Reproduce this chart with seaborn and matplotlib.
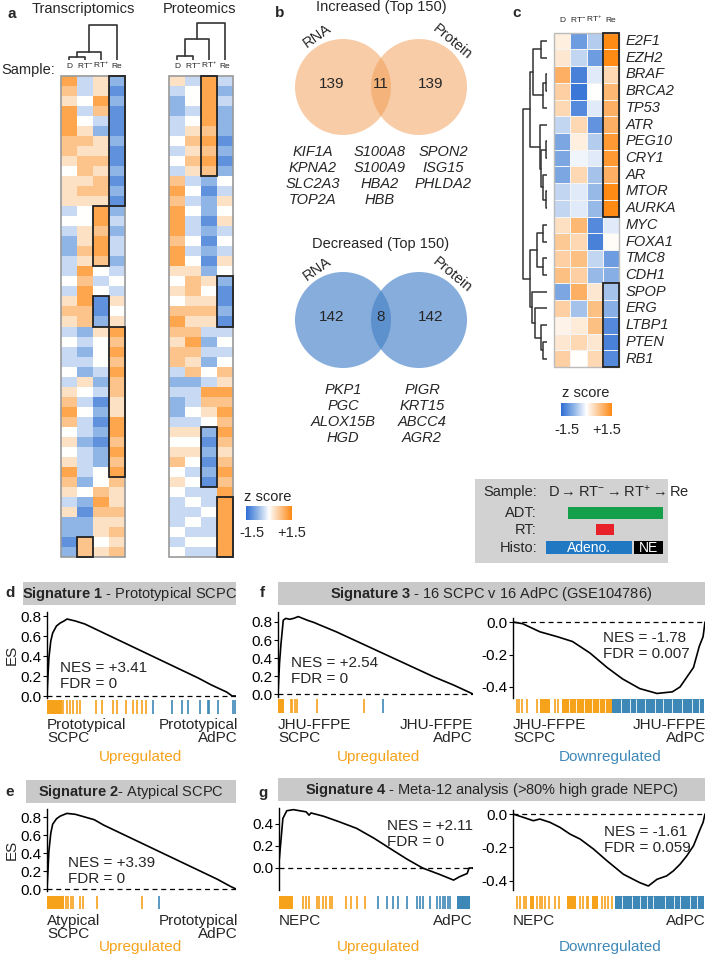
import numpy as np
import pandas as pd
import matplotlib
matplotlib.use("Agg")
import matplotlib.pyplot as plt
import seaborn as sns
from matplotlib.colors import LinearSegmentedColormap
from matplotlib.patches import Rectangle, Circle

sns.set_theme(style="white")
plt.rcParams['font.family'] = ['Liberation Sans', 'DejaVu Sans']
plt.rcParams['mathtext.fontset'] = 'custom'
plt.rcParams['mathtext.rm'] = 'Liberation Sans'
plt.rcParams['mathtext.bf'] = 'Liberation Sans:bold'
plt.rcParams['mathtext.it'] = 'Liberation Sans:italic'
plt.rcParams['axes.facecolor'] = 'none'

W, H = 708, 955

# ---------------- data ----------------
samples = ["D", r"RT$^{-}$", r"RT$^{+}$", "Re"]

# panel a: z-score levels 0..8 (4 = 0, step 0.375), one char per row block
trans_D  = "765777665455534322334356534334356764545765352212"
trans_RTm = "334345656656544556576776623232543433233324212266"
trans_RTp = "557632556566577677643411254443231212122446765545"
trans_Re = "212111211212123233234354576767665577676765565656"
prot_D   = "532233434367677767754546765663232235456454333434"
prot_RTm = "344345656534343343456656567656233435454343434343"
prot_RTp = "777776767621221212125456532324376542121213343343"
prot_Re  = "323222121243545343542112134346576767656767777777"
# (column, first row, last row) of outlined blocks
trans_boxes = [(3, 0, 13), (2, 13, 19), (2, 22, 25), (3, 25, 40), (1, 46, 48)]
prot_boxes = [(2, 0, 10), (3, 20, 25), (2, 35, 41), (3, 42, 48)]
trans_link = [(0, 1, 3.3), (4, 2, 8.3), (5, 3, 35)]
prot_link = [(0, 1, 4), (4, 2, 20.7), (5, 3, 36.7)]

# panel b
inc_counts = [139, 11, 139]
dec_counts = [142, 8, 142]
inc_genes = [["KIF1A", "KPNA2", "SLC2A3", "TOP2A"],
             ["S100A8", "S100A9", "HBA2", "HBB"],
             ["SPON2", "ISG15", "PHLDA2"]]
dec_genes = [["PKP1", "PGC", "ALOX15B", "HGD"],
             ["PIGR", "KRT15", "ABCC4", "AGR2"]]

# panel c
genes = ["E2F1", "EZH2", "BRAF", "BRCA2", "TP53", "ATR", "PEG10", "CRY1", "AR", "MTOR",
         "AURKA", "MYC", "FOXA1", "TMC8", "CDH1", "SPOP", "ERG", "LTBP1", "PTEN", "RB1"]
c_D   = [0.2, 0.3, 1.0, 0.6, 0.5, -0.4, -0.9, -0.9, -0.9, -0.4, -0.4, 0.4, 0.7, 0.6, 0.8, -0.9, 0.6, 0.15, 0.3, 0.6]
c_RTm = [-1.0, -0.4, -1.3, -1.4, -1.2, 0.5, 0.2, -0.1, 0.5, -0.2, -0.2, 0.9, 0.5, 0.8, 0.6, 1.0, -0.6, 0.25, 0.5, 0.0]
c_RTp = [-0.5, -1.0, -0.2, 0.0, -0.2, -1.1, -0.5, -0.2, -0.6, -0.7, -0.7, -1.2, -1.3, -0.4, -0.7, 0.3, 0.8, 0.8, 0.3, 0.5]
c_Re  = [1.5, 1.5, 0.5, 0.9, 1.0, 1.0, 1.3, 1.3, 1.0, 1.5, 1.5, -0.2, 0.05, -1.0, -0.8, -0.6, -0.8, -1.2, -1.3, -1.2]
c_boxes = [(3, 0, 11), (3, 15, 20)]
c_link = [(2, 3, 1), (20, 4, 3.7), (0, 1, 6.3), (22, 21, 14.3), (6, 7, 1), (9, 10, 1),
          (8, 25, 3.7), (24, 26, 6.3), (5, 27, 7), (23, 28, 17), (11, 12, 4.3), (13, 14, 4.3),
          (30, 31, 10.3), (18, 19, 4.3), (17, 33, 6.3), (16, 34, 12), (15, 35, 15.3),
          (32, 36, 17), (29, 37, 23.7)]

# GSEA running enrichment scores (fraction of ranked list, ES)
d_x = [0, 0.005, 0.01, 0.02, 0.03, 0.05, 0.07, 0.09, 0.106, 0.15, 0.2, 0.3, 0.4, 0.5, 0.6, 0.7, 0.8, 0.87, 0.95, 0.98, 1.0]
d_y = [0, 0.2, 0.38, 0.55, 0.63, 0.70, 0.73, 0.75, 0.77, 0.75, 0.72, 0.63, 0.54, 0.45, 0.36, 0.27, 0.18, 0.11, 0.04, 0.0, 0.0]
e_x = [0, 0.005, 0.01, 0.02, 0.03, 0.05, 0.07, 0.105, 0.15, 0.2, 0.25, 0.3, 0.4, 0.5, 0.6, 0.7, 0.8, 0.9, 0.97, 1.0]
e_y = [0, 0.2, 0.42, 0.62, 0.72, 0.78, 0.81, 0.84, 0.83, 0.80, 0.77, 0.71, 0.61, 0.51, 0.41, 0.31, 0.21, 0.11, 0.03, 0.0]
fl_x = [0, 0.008, 0.015, 0.027, 0.04, 0.06, 0.08, 0.104, 0.15, 0.19, 0.2, 0.3, 0.4, 0.5, 0.6, 0.7, 0.8, 0.9, 1.0]
fl_y = [0, 0.35, 0.55, 0.82, 0.84, 0.83, 0.84, 0.86, 0.82, 0.79, 0.78, 0.69, 0.59, 0.49, 0.39, 0.29, 0.19, 0.10, 0.0]
fr_x = [0, 0.05, 0.14, 0.23, 0.31, 0.40, 0.49, 0.57, 0.66, 0.75, 0.83, 0.87, 0.905, 0.94, 0.97, 0.99, 1.0]
fr_y = [0, -0.01, -0.06, -0.09, -0.12, -0.19, -0.28, -0.35, -0.41, -0.44, -0.43, -0.40, -0.34, -0.28, -0.15, -0.09, 0.0]
gl_x = [0, 0.014, 0.02, 0.04, 0.074, 0.14, 0.155, 0.165, 0.23, 0.31, 0.40, 0.49, 0.57, 0.66, 0.74, 0.83, 0.90, 0.93, 0.97, 0.98, 1.0]
gl_y = [0.05, 0.33, 0.45, 0.52, 0.53, 0.51, 0.48, 0.50, 0.47, 0.42, 0.36, 0.27, 0.18, 0.08, 0.0, -0.06, -0.11, -0.08, -0.05, 0.0, 0.0]
gr_x = [0, 0.054, 0.106, 0.14, 0.193, 0.245, 0.297, 0.35, 0.42, 0.49, 0.575, 0.66, 0.705, 0.75, 0.80, 0.835, 0.87, 0.905, 0.94, 0.975, 0.99, 1.0]
gr_y = [0, -0.02, -0.04, -0.03, -0.05, -0.08, -0.12, -0.15, -0.21, -0.28, -0.36, -0.41, -0.43, -0.39, -0.37, -0.34, -0.30, -0.25, -0.19, -0.09, -0.05, 0.0]

# rug hits: (orange blocks, orange lines, blue blocks, blue lines)
d_rug = ([(0, 0.078)], [0.087, 0.104, 0.122, 0.139, 0.157, 0.175, 0.258, 0.293, 0.351, 0.369, 0.416, 0.457, 0.478, 0.501, 0.522],
         [], [0.563, 0.66, 0.713, 0.748, 0.81, 0.854, 0.859, 0.907, 0.986, 0.993])
e_rug = ([(0, 0.09)], [0.1, 0.113, 0.125, 0.139, 0.175, 0.189, 0.263, 0.501], [], [0.594])
fl_rug = ([(0, 0.032)], [0.065, 0.073, 0.087, 0.096, 0.20, 0.44], [], [0.54])
fr_rug = ([(0.14, 0.193), (0.253, 0.514)], [0.019, 0.033, 0.047, 0.071, 0.123, 0.219, 0.236], [(0.514, 0.995)], [])
gl_rug = ([(0, 0.07)], [0.125, 0.139, 0.155, 0.194, 0.208, 0.225, 0.242, 0.263, 0.271, 0.345, 0.371, 0.400, 0.443],
          [(0.916, 0.985)], [0.512, 0.555, 0.589, 0.615, 0.658, 0.71, 0.727, 0.744, 0.778, 0.813, 0.83, 0.847, 0.856, 0.873, 0.881])
gr_rug = ([(0.087, 0.108), (0.28, 0.33), (0.41, 0.444)],
          [0.021, 0.038, 0.056, 0.069, 0.125, 0.139, 0.151, 0.168, 0.186, 0.22, 0.238, 0.349, 0.366, 0.384, 0.392, 0.462, 0.479, 0.496, 0.514],
          [(0.53, 0.995)], [])
# thin gaps inside the dense hit regions
fr_gaps = [0.29, 0.33, 0.37, 0.41, 0.45, 0.48, 0.56, 0.61, 0.64, 0.69, 0.74, 0.78, 0.83, 0.88, 0.93, 0.97]
gr_gaps = [0.57, 0.62, 0.66, 0.70, 0.73, 0.79, 0.84, 0.87, 0.92, 0.96]

ORANGE = "#F7A21B"
BLUE = "#3E88B8"
cmap = LinearSegmentedColormap.from_list("z", [(0, "#2f6ed4"), (0.25, "#8fb4e6"), (0.5, "#ffffff"),
                                               (0.75, "#fcc48c"), (1, "#ff8a14")])

fig = plt.figure(figsize=(W / 100, H / 100), dpi=100)


def px_axes(x0, y0, x1, y1):
    return fig.add_axes([x0 / W, 1 - y1 / H, (x1 - x0) / W, (y1 - y0) / H])


def lev(s):
    return [(int(c) - 4) * 0.375 for c in s]


def dendro(ax, Z, n, horizontal=False):
    pos = [i + 0.5 for i in range(n)]
    hgt = [0.0] * n
    for a, b, h in Z:
        xs = [pos[a], pos[a], pos[b], pos[b]]
        ys = [hgt[a], h, h, hgt[b]]
        if horizontal:
            ax.plot(ys, xs, color="#333333", lw=1.1)
        else:
            ax.plot(xs, ys, color="#333333", lw=1.2)
        pos.append((pos[a] + pos[b]) / 2)
        hgt.append(h)
    ax.axis("off")


# ---------------- panel a ----------------
for cols, boxes, link, x0 in [((trans_D, trans_RTm, trans_RTp, trans_Re), trans_boxes, trans_link, 61),
                              ((prot_D, prot_RTm, prot_RTp, prot_Re), prot_boxes, prot_link, 169)]:
    df = pd.DataFrame({s: lev(c) for s, c in zip(samples, cols)})
    ax = px_axes(x0, 76, x0 + 64, 557)
    sns.heatmap(df, cmap=cmap, vmin=-1.5, vmax=1.5, cbar=False, ax=ax,
                xticklabels=False, yticklabels=False)
    ax.add_patch(Rectangle((0, 0), 4, len(df), fill=False, ec="#9a9a9a", lw=1.2, clip_on=False))
    for c, r0, r1 in boxes:
        ax.add_patch(Rectangle((c, r0), 1, r1 - r0, fill=False, ec="#222222", lw=1.3, clip_on=False))
    for i, s in enumerate(samples):
        ax.text(i + 0.5, -0.6, s, ha="center", va="bottom", fontsize=6, clip_on=False)
    dax = px_axes(x0, 20, x0 + 64, 60)
    dendro(dax, link, 4)
    dax.set_xlim(0, 4)
    dax.set_ylim(0, 40)

cax = px_axes(246, 506, 292, 520)
cax.imshow(np.linspace(-1.5, 1.5, 200)[None, :], cmap=cmap, aspect="auto")
cax.axis("off")

# ---------------- panel c ----------------
cdf = pd.DataFrame({"D": c_D, "RTm": c_RTm, "RTp": c_RTp, "Re": c_Re}, index=genes)
axc = px_axes(554, 32.7, 619, 367)
sns.heatmap(cdf, cmap=cmap, vmin=-1.5, vmax=1.5, cbar=False, ax=axc,
            xticklabels=False, yticklabels=False, linewidths=0.6, linecolor="#f4f4f4")
axc.add_patch(Rectangle((0, 0), 4, len(genes), fill=False, ec="#bbbbbb", lw=1, clip_on=False))
for c, r0, r1 in c_boxes:
    axc.add_patch(Rectangle((c, r0), 1, r1 - r0, fill=False, ec="#222222", lw=1.3, clip_on=False))
for i, g in enumerate(genes):
    axc.text(4.4, i + 0.5, g, va="center", ha="left", fontsize=10.5, style="italic", clip_on=False)
for i, s in enumerate(samples):
    axc.text(i + 0.5, -0.5, s, ha="center", va="bottom", fontsize=6, clip_on=False)
dcx = px_axes(521, 32.7, 547, 367)
dendro(dcx, c_link, len(genes), horizontal=True)
dcx.set_xlim(26, 0)
dcx.set_ylim(len(genes), 0)

cax2 = px_axes(561, 403, 612, 416)
cax2.imshow(np.linspace(-1.5, 1.5, 200)[None, :], cmap=cmap, aspect="auto")
cax2.axis("off")


# ---------------- GSEA panels ----------------
def es_panel(box, xs, ys, ylim, yticks, rugbox, rug, gaps=()):
    ax = px_axes(*box)
    sns.lineplot(x=xs, y=ys, ax=ax, color="black", lw=1.2)
    ax.axhline(0, ls=(0, (4, 3)), color="black", lw=0.9)
    ax.set_xlim(0, 1)
    ax.set_ylim(*ylim)
    for s in ["top", "right", "bottom"]:
        ax.spines[s].set_visible(False)
    ax.spines["left"].set_color("black")
    ax.spines["left"].set_linewidth(1)
    ax.set_xticks([])
    ax.set_yticks(yticks)
    ax.set_yticklabels([f"{t:.1f}" for t in yticks])
    ax.tick_params(axis="y", left=True, length=3, width=0.8, labelsize=11, pad=1, colors="black")
    ax.set_xlabel("")
    ax.set_ylabel("")
    rx = px_axes(*rugbox)
    ob, ol, bb, bl = rug
    for a, b in ob:
        rx.axvspan(a, b, color=ORANGE, lw=0)
    for a, b in bb:
        rx.axvspan(a, b, color=BLUE, lw=0)
    rx.vlines(ol, 0, 1, color=ORANGE, lw=1.2)
    rx.vlines(bl, 0, 1, color=BLUE, lw=1.2)
    if gaps:
        rx.vlines(gaps, 0, 1, color="white", lw=0.6)
    rx.set_xlim(0, 1)
    rx.set_ylim(0, 1)
    rx.axis("off")


pos_ticks = [0.0, 0.2, 0.4, 0.6, 0.8]
es_panel((47, 612, 236, 698), d_x, d_y, (-0.02, 0.84), pos_ticks, (47, 700, 236, 714), d_rug)
es_panel((47, 809, 236, 891), e_x, e_y, (-0.022, 0.889), pos_ticks, (47, 896, 236, 909), e_rug)
es_panel((278, 612, 473, 697), fl_x, fl_y, (-0.033, 0.911), pos_ticks, (278, 699, 473, 713), fl_rug)
es_panel((513, 618, 705, 698), fr_x, fr_y, (-0.468, 0.025), [-0.4, -0.2, 0.0], (513, 699, 705, 713), fr_rug, fr_gaps)
es_panel((279, 808, 473, 890), gl_x, gl_y, (-0.2, 0.545), [0.0, 0.2, 0.4], (279, 896, 473, 909), gl_rug)
es_panel((513, 810, 705, 890), gr_x, gr_y, (-0.454, 0.024), [-0.4, -0.2, 0.0], (513, 896, 705, 909), gr_rug, gr_gaps)

# ---------------- overlay: text, venn, legend box ----------------
ov = px_axes(0, 0, W, H)
ov.set_xlim(0, W)
ov.set_ylim(H, 0)
ov.axis("off")


def T(x, y, s, **kw):
    kw.setdefault("fontsize", 10.5)
    kw.setdefault("ha", "center")
    kw.setdefault("va", "center")
    ov.text(x, y, s, **kw)


# panel letters
for x, y, s in [(12, 14, "a"), (280, 13, "b"), (517, 13, "c"), (10, 593, "d"), (10, 792, "e"),
                (262, 593, "f"), (263, 793, "g")]:
    T(x, y, s, fontsize=11, fontweight="bold")

T(83, 9, "Transcriptomics", fontsize=10.5)
T(200, 9, "Proteomics", fontsize=10.5)
T(28, 70, "Sample:", fontsize=10.5)
T(268, 497, "z score", fontsize=10.5)
T(252, 533, "-1.5", fontsize=10.5)
T(292, 533, "+1.5", fontsize=10.5)
T(586, 393, "z score", fontsize=10.5)
T(567, 430, "-1.5", fontsize=10.5)
T(607, 430, "+1.5", fontsize=10.5)

# venn diagrams
for cy, counts, color, alpha, title, ty in [(87, inc_counts, "#F29B50", 0.5, "Increased (Top 150)", 7),
                                           (320, dec_counts, "#4682C8", 0.65, "Decreased (Top 150)", 244)]:
    for cx in (343, 419):
        ov.add_patch(Circle((cx, cy), 48, color=color, alpha=alpha, lw=0))
    T(381, ty, title, fontsize=10.5)
    T(317, cy - 51, "RNA", rotation=35, fontsize=10.5)
    T(452, cy - 45, "Protein", rotation=-40, fontsize=10.5)
    for x, n in zip((332, 381, 431), counts):
        T(x, cy - 3, str(n), fontsize=11)

for x, col in zip((313, 380, 443), inc_genes):
    for i, g in enumerate(col):
        T(x, 152 + i * 16, g, style="italic")
for x, col in zip((343, 422), dec_genes):
    for i, g in enumerate(col):
        T(x, 390 + i * 16, g, style="italic")

# legend box
ov.add_patch(Rectangle((475, 479), 193, 84, color="#D2D2D2", lw=0))
for y, s in [(492, "Sample:"), (513, "ADT:"), (530, "RT:"), (548, "Histo:")]:
    T(537, y, s, ha="right")
T(548, 492, r"D$\rightarrow$RT$^{-}$$\rightarrow$RT$^{+}$$\rightarrow$Re", ha="left", fontsize=10.5)
ov.add_patch(Rectangle((568, 507), 95, 12, color="#14A04A", lw=0))
ov.add_patch(Rectangle((596, 524), 18, 11, color="#E8202A", lw=0))
ov.add_patch(Rectangle((546, 541), 86, 13, color="#1F78C1", lw=0))
ov.add_patch(Rectangle((634, 541), 29, 13, color="black", lw=0))
T(589, 548, "Adeno.", color="white", fontsize=10)
T(648, 548, "NE", color="white", fontsize=10)

# GSEA headers
for x0, x1, y0, s in [(23, 236, 582, r"$\bf{Signature\ 1}$ - Prototypical SCPC"),
                      (26, 236, 780, r"$\bf{Signature\ 2}$- Atypical SCPC"),
                      (278, 705, 582, r"$\bf{Signature\ 3}$ - 16 SCPC v 16 AdPC (GSE104786)"),
                      (278, 705, 778, r"$\bf{Signature\ 4}$ - Meta-12 analysis (>80% high grade NEPC)")]:
    ov.add_patch(Rectangle((x0, y0), x1 - x0, 23, color="#C9C9C9", lw=0))
    T((x0 + x1) / 2, y0 + 11.5, s, fontsize=10.5)

T(12, 655, "ES", rotation=90, fontsize=11)
T(12, 850, "ES", rotation=90, fontsize=11)

for x, y, s in [(60, 667, "NES = +3.41\nFDR = 0"), (68, 862, "NES = +3.39\nFDR = 0"),
                (291, 662, "NES = +2.54\nFDR = 0"), (603, 637, "NES = -1.78\nFDR = 0.007"),
                (387, 825, "NES = +2.11\nFDR = 0"), (604, 831, "NES = -1.61\nFDR = 0.059")]:
    T(x, y + 9, s, ha="left", fontsize=11, linespacing=1.2)

for xl, xr, y, left, right in [(47, 238, 718, "Prototypical\nSCPC", "Prototypical\nAdPC"),
                               (47, 238, 914, "Atypical\nSCPC", "Prototypical\nAdPC"),
                               (278, 473, 718, "JHU-FFPE\nSCPC", "JHU-FFPE\nAdPC"),
                               (513, 706, 718, "JHU-FFPE\nSCPC", "JHU-FFPE\nAdPC"),
                               (279, 473, 914, "NEPC", "AdPC"),
                               (513, 706, 914, "NEPC", "AdPC")]:
    T(xl, y, left, ha="left", va="top", fontsize=11, linespacing=0.9)
    T(xr, y, right, ha="right", va="top", fontsize=11, linespacing=0.9)

for x, y, s, c in [(141, 757, "Upregulated", ORANGE), (141, 947, "Upregulated", ORANGE),
                   (378, 757, "Upregulated", ORANGE), (610, 757, "Downregulated", BLUE),
                   (378, 947, "Upregulated", ORANGE), (610, 947, "Downregulated", BLUE)]:
    T(x, y, s, color=c, fontsize=11)

fig.savefig("out.png", dpi=100, facecolor="white")
